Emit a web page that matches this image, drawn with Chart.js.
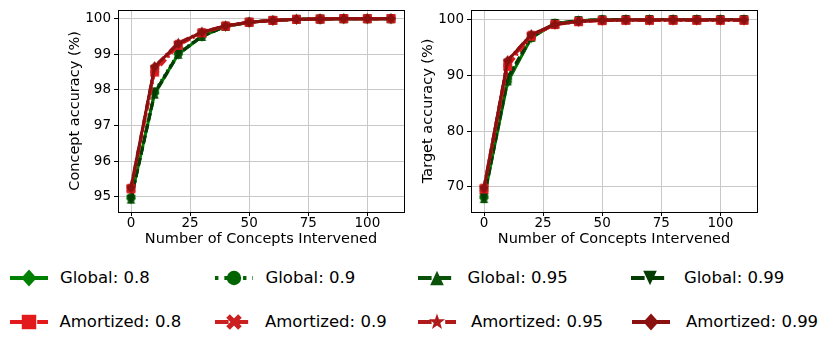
<!DOCTYPE html>
<html>
<head>
<meta charset="utf-8">
<script src="https://cdn.jsdelivr.net/npm/chart.js@4.4.0/dist/chart.umd.min.js"></script>
<style>
  body { margin: 0; background: #fff; width: 825px; height: 337px; overflow: hidden; position: relative; font-family: "DejaVu Sans", sans-serif; }
  #graficoConcepto { position: absolute; left: 0; top: 0; }
  #graficoObjetivo { position: absolute; left: 412px; top: 0; }
  .leg-swatch { position: absolute; }
  .leg-text { position: absolute; font-size: 16.5px; line-height: 20px; color: #000; white-space: nowrap; }
</style>
</head>
<body>
<canvas id="graficoConcepto" width="412" height="250"></canvas>
<canvas id="graficoObjetivo" width="413" height="250"></canvas>
<div id="leyenda"></div>
<script>
const interventions = [0, 10, 20, 30, 40, 50, 60, 70, 80, 90, 100, 110];
const xTicks = [0, 25, 50, 75, 100];
const conceptTicks = [95, 96, 97, 98, 99, 100];
const targetTicks = [70, 80, 90, 100];
const seriesLabels = ["Global: 0.8", "Global: 0.9", "Global: 0.95", "Global: 0.99",
  "Amortized: 0.8", "Amortized: 0.9", "Amortized: 0.95", "Amortized: 0.99"];

// concept accuracy (%)
const conceptGlobal08 = [94.95, 97.90, 99.00, 99.50, 99.78, 99.90, 99.95, 99.98, 99.99, 100, 100, 100];
const conceptGlobal09 = [94.98, 97.95, 99.03, 99.52, 99.79, 99.90, 99.95, 99.98, 99.99, 100, 100, 100];
const conceptGlobal095 = [94.93, 97.88, 99.00, 99.50, 99.78, 99.90, 99.95, 99.98, 99.99, 100, 100, 100];
const conceptGlobal099 = [94.92, 97.92, 99.01, 99.51, 99.78, 99.90, 99.95, 99.98, 99.99, 100, 100, 100];
const conceptAmort08 = [95.22, 98.50, 99.25, 99.60, 99.79, 99.90, 99.95, 99.98, 99.99, 100, 100, 100];
const conceptAmort09 = [95.24, 98.58, 99.28, 99.61, 99.80, 99.90, 99.95, 99.98, 99.99, 100, 100, 100];
const conceptAmort095 = [95.27, 98.66, 99.32, 99.63, 99.80, 99.90, 99.95, 99.98, 99.99, 100, 100, 100];
const conceptAmort099 = [95.25, 98.65, 99.30, 99.62, 99.80, 99.90, 99.95, 99.98, 99.99, 100, 100, 100];

// target accuracy (%)
const targetGlobal08 = [68.0, 88.8, 96.7, 99.3, 99.8, 99.95, 100, 100, 100, 100, 100, 100];
const targetGlobal09 = [68.3, 89.4, 96.9, 99.3, 99.8, 99.95, 100, 100, 100, 100, 100, 100];
const targetGlobal095 = [67.9, 89.0, 96.8, 99.25, 99.8, 99.95, 100, 100, 100, 100, 100, 100];
const targetGlobal099 = [68.1, 89.6, 96.9, 99.3, 99.8, 99.95, 100, 100, 100, 100, 100, 100];
const targetAmort08 = [69.6, 91.6, 97.0, 99.1, 99.6, 99.8, 99.85, 99.85, 99.85, 99.85, 99.85, 99.85];
const targetAmort09 = [69.8, 92.2, 97.2, 99.1, 99.65, 99.85, 99.9, 99.9, 99.9, 99.9, 99.9, 99.9];
const targetAmort095 = [69.9, 92.7, 97.3, 99.15, 99.65, 99.85, 99.9, 99.9, 99.9, 99.9, 99.9, 99.9];
const targetAmort099 = [69.8, 92.6, 97.3, 99.1, 99.65, 99.85, 99.9, 99.9, 99.9, 99.9, 99.9, 99.9];

const colores = ["#008000", "#006400", "#0a520a", "#043c04", "#e31a1c", "#cc2020", "#b01a1a", "#8b1010"];
const marcadores = ["diamond", "circle", "triangle", "triangleDown", "square", "x", "star", "diamond"];
const trazos = [[], [2, 3.5], [8, 3.5], [8, 3.5], [8, 3, 2, 3], [8, 3.5], [8, 3, 2, 3], []];

function dibujarMarcador(ctx, forma, x, y, r, color) {
  ctx.save();
  ctx.fillStyle = color;
  ctx.strokeStyle = color;
  ctx.setLineDash([]);
  ctx.beginPath();
  if (forma === "diamond") {
    ctx.moveTo(x, y - r); ctx.lineTo(x + r * 0.9, y); ctx.lineTo(x, y + r); ctx.lineTo(x - r * 0.9, y);
    ctx.closePath(); ctx.fill();
  } else if (forma === "circle") {
    ctx.arc(x, y, r * 0.85, 0, Math.PI * 2); ctx.fill();
  } else if (forma === "triangle") {
    ctx.moveTo(x, y - r * 0.85); ctx.lineTo(x + r * 0.8, y + r * 0.85); ctx.lineTo(x - r * 0.8, y + r * 0.85);
    ctx.closePath(); ctx.fill();
  } else if (forma === "triangleDown") {
    ctx.moveTo(x, y + r * 0.85); ctx.lineTo(x + r * 0.8, y - r * 0.85); ctx.lineTo(x - r * 0.8, y - r * 0.85);
    ctx.closePath(); ctx.fill();
  } else if (forma === "square") {
    const s = r * 0.85;
    ctx.rect(x - s, y - s, 2 * s, 2 * s); ctx.fill();
  } else if (forma === "x") {
    ctx.lineWidth = r * 0.6;
    ctx.lineCap = "butt";
    const s = r * 0.7;
    ctx.moveTo(x - s, y - s); ctx.lineTo(x + s, y + s);
    ctx.moveTo(x + s, y - s); ctx.lineTo(x - s, y + s);
    ctx.stroke();
  } else if (forma === "star") {
    for (let i = 0; i < 10; i++) {
      const rr = i % 2 === 0 ? r : r * 0.4;
      const a = -Math.PI / 2 + i * Math.PI / 5;
      if (i === 0) ctx.moveTo(x + rr * Math.cos(a), y + rr * Math.sin(a));
      else ctx.lineTo(x + rr * Math.cos(a), y + rr * Math.sin(a));
    }
    ctx.closePath(); ctx.fill();
  }
  ctx.restore();
}

function imagenMarcador(forma, color, r) {
  const c = document.createElement("canvas");
  const t = Math.ceil(2 * r + 4);
  c.width = t; c.height = t;
  dibujarMarcador(c.getContext("2d"), forma, t / 2, t / 2, r, color);
  return c;
}

const cajaPlugin = {
  id: "caja",
  afterDraw(chart) {
    const { ctx, chartArea } = chart;
    const l = Math.round(chartArea.left) + 0.5, t = Math.round(chartArea.top) + 0.5;
    const r = Math.round(chartArea.right) + 0.5, b = Math.round(chartArea.bottom) + 0.5;
    ctx.save();
    ctx.strokeStyle = "#000";
    ctx.lineWidth = 1;
    ctx.strokeRect(l, t, r - l, b - t);
    ctx.restore();
  }
};

function crearGrafico(id, series, tituloY, yMin, yMax, yTicks, pad, anchoY) {
  const datasets = series.map((valores, i) => ({
    label: seriesLabels[i],
    data: valores.map((v, j) => ({ x: interventions[j], y: v })),
    borderColor: colores[i],
    backgroundColor: colores[i],
    borderWidth: 3,
    borderDash: trazos[i],
    pointStyle: imagenMarcador(marcadores[i], colores[i], 5.2),
    pointRadius: 5,
    tension: 0,
    order: series.length - i
  }));

  const fuenteTicks = { family: "'DejaVu Sans', sans-serif", size: 13.5, lineHeight: 1 };
  const fuenteTitulo = { family: "'DejaVu Sans', sans-serif", size: 14.5 };

  return new Chart(document.getElementById(id), {
    type: "line",
    data: { datasets },
    plugins: [cajaPlugin],
    options: {
      responsive: false,
      animation: false,
      layout: { padding: pad },
      plugins: { legend: { display: false }, tooltip: { enabled: false } },
      scales: {
        x: {
          type: "linear",
          min: -5.5,
          max: 115.5,
          afterBuildTicks: s => { s.ticks = xTicks.map(v => ({ value: v })); },
          afterFit: s => { s.height = 36; },
          ticks: { color: "#000", font: fuenteTicks, padding: 1, maxRotation: 0 },
          grid: { color: "#c8c8c8", lineWidth: 1, tickLength: 4, tickColor: "#000" },
          border: { display: false },
          title: { display: true, text: "Number of Concepts Intervened", color: "#000", font: fuenteTitulo, padding: { top: 0, bottom: 0 } }
        },
        y: {
          type: "linear",
          min: yMin,
          max: yMax,
          afterBuildTicks: s => { s.ticks = yTicks.map(v => ({ value: v })); },
          afterFit: s => { s.width = anchoY; },
          ticks: { color: "#000", font: fuenteTicks, padding: 3 },
          grid: { color: "#c8c8c8", lineWidth: 1, tickLength: 4, tickColor: "#000" },
          border: { display: false },
          title: { display: true, text: tituloY, color: "#000", font: fuenteTitulo, padding: { top: 4, bottom: 4 } }
        }
      }
    }
  });
}

crearGrafico("graficoConcepto",
  [conceptGlobal08, conceptGlobal09, conceptGlobal095, conceptGlobal099,
   conceptAmort08, conceptAmort09, conceptAmort095, conceptAmort099],
  "Concept accuracy (%)", 94.57, 100.25, conceptTicks,
  { left: 63, right: 8, top: 9, bottom: 2 }, 55);

crearGrafico("graficoObjetivo",
  [targetGlobal08, targetGlobal09, targetGlobal095, targetGlobal099,
   targetAmort08, targetAmort09, targetAmort095, targetAmort099],
  "Target accuracy (%)", 65.5, 101.75, targetTicks,
  { left: 4, right: 68, top: 9, bottom: 2 }, 55);

// leyenda en 4 columnas, 2 filas
const leyenda = document.getElementById("leyenda");
const centrosMarcador = [[28.5, 234, 436.5, 650], [28.5, 234, 436.5, 651]];
const inicioTexto = [[60, 265.5, 467.5, 684], [59.5, 265, 471, 686]];
const filasY = [277.5, 322];

seriesLabels.forEach((texto, i) => {
  const fila = Math.floor(i / 4), col = i % 4;
  const cx = centrosMarcador[fila][col], cy = filasY[fila];

  const c = document.createElement("canvas");
  c.width = 44; c.height = 30;
  c.className = "leg-swatch";
  c.style.left = (cx - 22) + "px";
  c.style.top = (cy - 15) + "px";
  const ctx = c.getContext("2d");
  ctx.strokeStyle = colores[i];
  ctx.lineWidth = 4;
  ctx.setLineDash(trazos[i].map(d => d * 1.7));
  ctx.beginPath();
  ctx.moveTo(3, 15);
  ctx.lineTo(41, 15);
  ctx.stroke();
  dibujarMarcador(ctx, marcadores[i], 22, 15, 8.5, colores[i]);
  leyenda.appendChild(c);

  const span = document.createElement("div");
  span.className = "leg-text";
  span.textContent = texto;
  span.style.left = inicioTexto[fila][col] + "px";
  span.style.top = (cy - 10) + "px";
  leyenda.appendChild(span);
});
</script>
</body>
</html>
